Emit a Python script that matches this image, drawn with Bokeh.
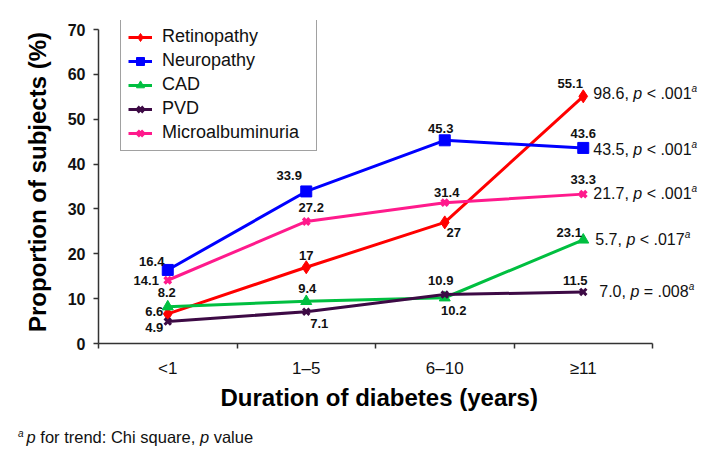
from bokeh.plotting import figure
from bokeh.models import ColumnDataSource, FixedTicker, Label, Range1d, Title, Div
from bokeh.layouts import column
from bokeh.embed import file_html
from bokeh.resources import INLINE
from bokeh.core.properties import value

# ---------------- data ----------------
categories = ["<1", "1–5", "6–10", "≥11"]
series_names = ["Retinopathy", "Neuropathy", "CAD", "PVD", "Microalbuminuria"]
retinopathy = [6.6, 17, 27, 55.1]
neuropathy = [16.4, 33.9, 45.3, 43.6]
cad = [8.2, 9.4, 10.2, 23.1]
pvd = [4.9, 7.1, 10.9, 11.5]
microalbuminuria = [14.1, 27.2, 31.4, 33.3]
chi_square = ["98.6", "43.5", "5.7", "7.0", "21.7"]
p_relation = ["<", "<", "<", "=", "<"]
p_values = [".001", ".001", ".017", ".008", ".001"]
y_ticks = [0, 10, 20, 30, 40, 50, 60, 70]

# ---------------- styles ----------------
colors = ["#FF0000", "#0000FF", "#00BF40", "#3D0A45", "#FF1A8C"]
markers = ["diamond", "square", "triangle", "x", "x"]
msizes = [13, 11, 11, 9, 9]
mlw = [1, 1, 1, 3, 3.5]
# data label offsets (px, screen: +y down)
label_dx = [[-13.5, 0, 9, -13], [-16, -17, -4, 0], [-1, 1, 9, -14], [-13.5, 13, -4, -8], [-21.5, 5, 2, 0]]
label_dy = [[-2, -12, 10, -13], [-8, -16, -12, -14], [-14, -13, 13, -7], [6, 12, -14, -11], [0, -14, -10, -15]]
annot_dx = [10, 10, 12, 16, 10]
annot_rise = [3, -2, 0, 0, 1]

FONT = "Liberation Sans"
AXC = "#333333"
W, H = 716, 420
FRAME_L, FRAME_T, FRAME_B = 98, 20, 343
CAT_PX = 138.5  # pixel width of one category slot

all_series = [retinopathy, neuropathy, cad, pvd, microalbuminuria]
xs = [i + 0.5 for i in range(len(categories))]
n_cat = len(categories)
x_end = (W - FRAME_L) / CAT_PX                      # room on the right for the annotations
y_end = y_ticks[-1] * (FRAME_B - FRAME_T) / (FRAME_B - 29)  # room on top for the legend

p = figure(width=W, height=H, x_range=Range1d(0, x_end), y_range=Range1d(y_ticks[0], y_end),
           output_backend="svg", toolbar_location=None,
           min_border_left=FRAME_L, min_border_right=0, min_border_top=FRAME_T, min_border_bottom=H - FRAME_B)
p.outline_line_color = None
p.xgrid.visible = False
p.ygrid.visible = False
p.background_fill_color = "white"

for name, vals, c, m, s, lw in zip(series_names, all_series, colors, markers, msizes, mlw):
    p.line(xs, vals, line_color=c, line_width=3, legend_label=name)
    p.scatter(xs, vals, marker=m, size=s, fill_color=c, line_color=c, line_width=lw, legend_label=name)

# data labels
lx, ly, lt, ldx, ldy = [], [], [], [], []
for si, vals in enumerate(all_series):
    for i, v in enumerate(vals):
        lx.append(xs[i]); ly.append(v); lt.append(f"{v:g}")
        ldx.append(label_dx[si][i]); ldy.append(label_dy[si][i])
src = ColumnDataSource(dict(x=lx, y=ly, text=lt, dx=ldx, dy=ldy))
p.text(x="x", y="y", text="text", x_offset="dx", y_offset="dy", source=src,
       text_font=value(FONT), text_font_style="bold", text_font_size="13px",
       text_align="center", text_baseline="middle", text_color="#111111")

# width helper (Arial metrics)
AW = {' ': 278, '.': 278, ',': 278, ':': 278, '<': 584, '=': 584, 'a': 556, 'p': 556}


def tw(s, size):
    return sum(AW.get(ch, 556) for ch in s) * size / 1000.0


def rich(pieces, x, y, x0, y0, color="#111111"):
    cx = x0
    for text, size, style, rise in pieces:
        stripped = text.lstrip()
        cx += tw(text[:len(text) - len(stripped)], size)
        p.add_layout(Label(x=x, y=y, x_offset=cx, y_offset=y0 + rise,
                           text=stripped, text_font=FONT, text_font_size=f"{size}px", text_font_style=style,
                           text_baseline="middle", text_align="left", text_color=color))
        cx += tw(stripped, size)


# right-side annotations
for si, vals in enumerate(all_series):
    pieces = [(f"{chi_square[si]}, ", 16, "normal", 0), ("p", 16, "italic", 0),
              (f" {p_relation[si]} {p_values[si]}", 16, "normal", 0), ("a", 10, "italic", 5)]
    rich(pieces, xs[-1], vals[-1], annot_dx[si], annot_rise[si])

# axes
xa = p.xaxis[0]
xa.bounds = (0, n_cat)
xa.ticker = FixedTicker(ticks=xs, minor_ticks=list(range(n_cat + 1)))
xa.major_label_overrides = {x: c for x, c in zip(xs, categories)}
xa.major_tick_line_color = None
xa.major_tick_out = 0
xa.major_tick_in = 0
xa.minor_tick_in = 0
xa.minor_tick_out = 5
xa.minor_tick_line_color = AXC
xa.minor_tick_line_width = 1.5
xa.major_label_standoff = 10
xa.major_label_text_font = FONT
xa.major_label_text_font_size = "17px"
xa.major_label_text_color = "#111111"

p.add_layout(Title(text="Duration of diabetes (years)", align="left", offset=122,
                   text_font=FONT, text_font_size="24px", text_font_style="bold",
                   text_color="#000000", standoff=2), "below")

ya = p.yaxis[0]
ya.bounds = (y_ticks[0], y_ticks[-1])
ya.ticker = FixedTicker(ticks=y_ticks, minor_ticks=[])
ya.major_tick_out = 5
ya.major_tick_in = 0
ya.major_tick_line_color = AXC
ya.major_tick_line_width = 1.5
ya.minor_tick_line_color = None
ya.major_label_standoff = 8
ya.major_label_text_font = FONT
ya.major_label_text_font_size = "16px"
ya.major_label_text_font_style = "bold"
ya.major_label_text_color = "#111111"
ya.axis_label = "Proportion of subjects (%)"
ya.axis_label_text_font = FONT
ya.axis_label_text_font_size = "24px"
ya.axis_label_text_font_style = "bold"
ya.axis_label_text_color = "#000000"
ya.axis_label_standoff = 14

for ax in (xa, ya):
    ax.axis_line_color = AXC
    ax.axis_line_width = 1.5

lg = p.legend[0]
lg.location = (22, 192)
lg.padding = 7
lg.spacing = 3
lg.margin = 0
lg.label_height = 20
lg.glyph_height = 20
lg.glyph_width = 24
lg.label_standoff = 10
lg.label_width = 147
lg.label_text_font = FONT
lg.label_text_font_size = "18px"
lg.label_text_color = "#111111"
lg.border_line_color = "#444444"
lg.border_line_width = 1.5
lg.background_fill_alpha = 1

foot = Div(text=('<span style="font-family:\'Liberation Sans\';font-size:16.5px;color:#111">'
                 '<i style="font-size:10px;vertical-align:super;margin-right:3px">a</i><i>p</i> for trend: Chi square, '
                 '<i>p</i> value</span>'),
           width=400, margin=(6, 0, 0, 18))

open("out.html", "w").write(file_html(column(p, foot), INLINE))
